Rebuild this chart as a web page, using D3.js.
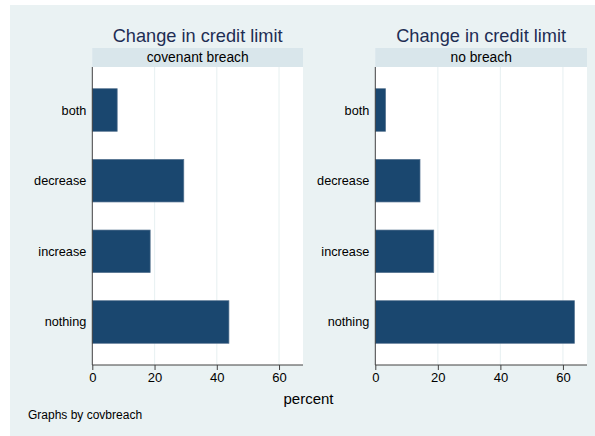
<!DOCTYPE html>
<html>
<head>
<meta charset="utf-8">
<script src="https://cdn.jsdelivr.net/npm/d3@7"></script>
<style>
  html, body { margin: 0; padding: 0; background: #ffffff; }
  svg { display: block; font-family: "Liberation Sans", Arial, sans-serif; }
</style>
</head>
<body>
<script>
// Share of loans by change in credit limit, split by covenant breach status
const categories = ["both", "decrease", "increase", "nothing"];
const panelLabels = ["covenant breach", "no breach"];
const breachValues = [8.0, 29.4, 18.6, 43.9];
const noBreachValues = [3.3, 14.3, 18.7, 63.7];
const xTicks = [0, 20, 40, 60];
const chartTitle = "Change in credit limit";
const xTitle = "percent";
const note = "Graphs by covbreach";

const W = 595, H = 436;
const svg = d3.select("body").append("svg").attr("width", W).attr("height", H);

// graph region background
svg.append("rect").attr("x", 10).attr("y", 5).attr("width", W - 10).attr("height", H - 5)
  .attr("fill", "#eaf2f3");

const plotTop = 67, plotBottom = 365;
const panels = [
  { left: 92.3, right: 303, label: panelLabels[0], values: breachValues },
  { left: 375.3, right: 587, label: panelLabels[1], values: noBreachValues }
];
const xMax = 67.7;

panels.forEach(p => {
  const g = svg.append("g");
  const x = d3.scaleLinear().domain([0, xMax]).range([p.left, p.right]);
  const y = d3.scaleBand().domain(categories).range([plotTop, plotBottom])
    .paddingInner(0.397).paddingOuter(0.307);

  // plot region
  g.append("rect").attr("x", p.left).attr("y", plotTop)
    .attr("width", p.right - p.left).attr("height", plotBottom - plotTop).attr("fill", "#ffffff");

  // grid lines
  g.selectAll("line.grid").data(xTicks.filter(t => t > 0)).join("line")
    .attr("x1", d => x(d)).attr("x2", d => x(d))
    .attr("y1", plotTop).attr("y2", plotBottom)
    .attr("stroke", "#eaf2f3").attr("stroke-width", 1.2);

  // title and strip
  svg.append("text").attr("x", (p.left + p.right) / 2).attr("y", 42)
    .attr("text-anchor", "middle").attr("font-size", 18.2).attr("fill", "#1e2d53")
    .text(chartTitle);
  g.append("rect").attr("x", p.left).attr("y", 48)
    .attr("width", p.right - p.left).attr("height", plotTop - 48).attr("fill", "#d9e6eb");
  g.append("text").attr("x", (p.left + p.right) / 2).attr("y", 62)
    .attr("text-anchor", "middle").attr("font-size", 13.8).attr("fill", "#000")
    .text(p.label);

  // bars
  g.selectAll("rect.bar").data(categories).join("rect")
    .attr("x", x(0))
    .attr("y", d => y(d))
    .attr("width", (d, i) => x(p.values[i]) - x(0))
    .attr("height", y.bandwidth())
    .attr("fill", "#1a476f")
    .attr("stroke", "#587592").attr("stroke-width", 0.7);

  // category labels
  g.selectAll("text.cat").data(categories).join("text")
    .attr("x", p.left - 6)
    .attr("y", d => y(d) + y.bandwidth() / 2 + 4.5)
    .attr("text-anchor", "end").attr("font-size", 12.7).attr("fill", "#000")
    .text(d => d);

  // y axis line
  g.append("line").attr("x1", p.left).attr("x2", p.left).attr("y1", plotTop).attr("y2", plotBottom)
    .attr("stroke", "#404040").attr("stroke-width", 1);

  // x axis
  const ax = g.append("g").attr("transform", `translate(0,${plotBottom})`)
    .call(d3.axisBottom(x).tickValues(xTicks).tickSize(5).tickPadding(3));
  ax.select(".domain").attr("stroke", "#404040").attr("d", `M${p.left},0H${p.right}`);
  ax.selectAll(".tick line").attr("stroke", "#404040");
  ax.selectAll(".tick text").attr("font-size", 13).attr("fill", "#000")
    .attr("font-family", "Liberation Sans, Arial, sans-serif");
});

svg.append("text").attr("x", 308.5).attr("y", 404).attr("text-anchor", "middle")
  .attr("font-size", 15).attr("fill", "#000").text(xTitle);
svg.append("text").attr("x", 28).attr("y", 419).attr("font-size", 12)
  .attr("fill", "#000").text(note);
</script>
</body>
</html>
